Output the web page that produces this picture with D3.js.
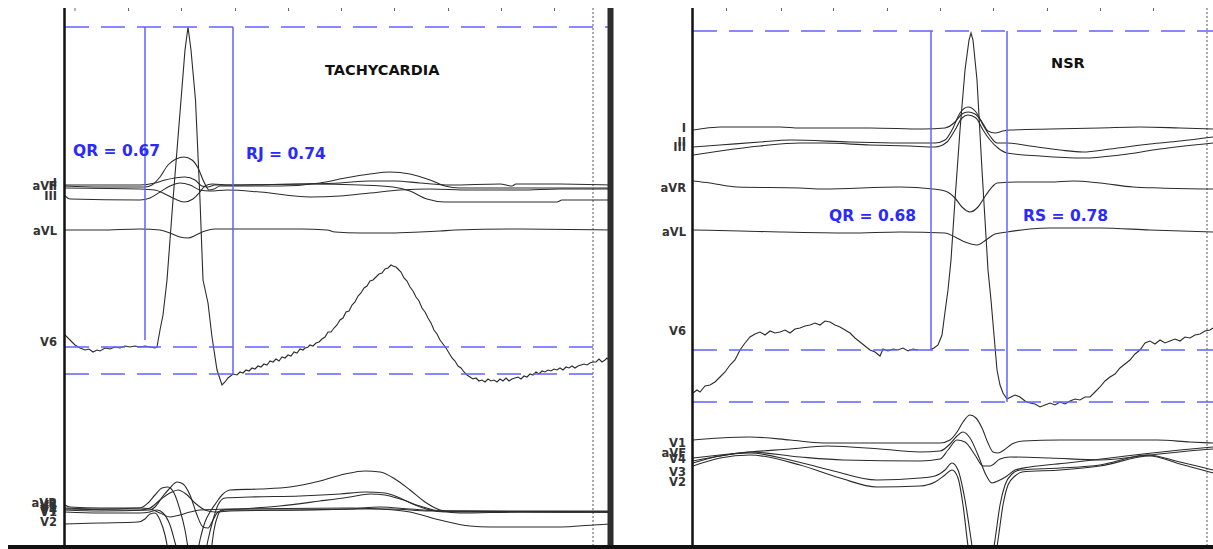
<!DOCTYPE html>
<html>
<head>
<meta charset="utf-8">
<script src="https://cdn.jsdelivr.net/npm/d3@7"></script>
<style>
body{margin:0;background:#fff}
svg{display:block}
.lead{fill:none;stroke:#2b2b2b;stroke-width:1.1}
.lbl{font-family:"DejaVu Sans",Verdana,sans-serif;font-weight:bold;font-size:11.5px;fill:#333}
.meas{font-family:"DejaVu Sans",Verdana,sans-serif;font-weight:bold;font-size:15.5px;fill:#2a2aff}
.title{font-family:"DejaVu Sans",Verdana,sans-serif;font-weight:bold;font-size:14.5px;fill:#111}
</style>
</head>
<body>
<svg id="ecg"></svg>
<script>
var svgW = 1213
var svgH = 549
var plotTop = 8
var plotBottom = 546

// small timing ticks along the top of each strip
var tachyTicks = [9.5, 63, 116, 170, 223, 276, 329, 383, 436, 489]
var nsrTicks = [33, 88, 140, 194, 247, 300, 354, 407, 460]

// lead names as printed on the left of each strip
var tachyLabels = ["I", "II", "aVF", "III", "aVL", "V6", "aVR", "V3", "V5", "V4", "V1", "V2"]
var nsrLabels = ["I", "II", "III", "aVR", "aVL", "V6", "V1", "aVF", "V4", "V3", "V2"]

// measurement texts
var tachyTitle = "TACHYCARDIA"
var nsrTitle = "NSR"
var tachyMeasures = ["QR = 0.67", "RJ = 0.74"]
var nsrMeasures = ["QR = 0.68", "RS = 0.78"]

// V6 reference levels (R peak, Q, J/S) and marker times
var tachyLevels = [320, 0, -27]
var nsrLevels = [319, 0, -52]
var tachyMarkT = [80, 168]
var tachyMarkEnd = [7, -27]
var nsrMarkT = [238, 314]
var nsrMarkEnd = [0, -52]

// traces: [sample, amplitude] pairs, amplitude measured from the lead baseline
var tachyI = [[0,0],[35,0],[75,0],[90,2],[100,5],[110,7],[120,8],[130,5],[137,-1],[143,-2],[150,0],[165,0],[235,1],[275,2],[305,4],[330,4],[355,2],[385,0],[435,1],[447,-1],[451,1],[495,1],[545,0]]
var tachyII = [[0,1],[35,0],[80,0],[87,2],[95,10],[103,22],[111,28],[119,30],[127,27],[133,19],[139,5],[144,-3],[149,-2],[155,1],[170,1],[215,1],[255,4],[280,9],[305,13],[325,15],[345,13],[365,7],[380,1],[395,-1],[455,-1],[545,-1]]
var tachyAVF = [[0,0],[75,-1],[90,-2],[100,-6],[110,-11],[119,-14],[128,-11],[135,-4],[140,2],[147,4],[165,3],[245,4],[295,3],[328,1],[345,-3],[362,-11],[380,-14],[402,-14],[455,-14],[492,-14],[497,-12],[545,-12]]
var tachyIII = [[0,1],[5,-2],[75,-3],[85,-1],[95,5],[105,11],[115,14],[125,12],[135,7],[145,6],[162,7],[195,5],[245,0],[275,1],[305,4],[335,7],[365,8],[405,7],[455,7],[495,8],[545,8]]
var tachyAVL = [[0,0],[35,0],[75,1],[95,0],[105,-3],[115,-7],[123,-8],[131,-5],[140,-1],[150,1],[175,1],[235,1],[262,0],[270,-2],[295,-3],[325,-3],[355,-2],[375,-1],[390,0],[455,1],[545,0]]
var tachyV6 = [[0,12],[5,7],[10,2],[15,-1],[20,-3],[24,-2],[28,-5],[32,-3],[35,-4],[40,-1],[45,-2],[50,0],[55,-1],[60,1],[65,0],[70,1],[75,0],[80,1],[85,0],[90,-1],[92,0],[95,17],[98,32],[102,67],[108,147],[116,247],[120,297],[123,320],[126,297],[130.5,247],[135,147],[138,67],[143,44],[147,10],[152,-23],[157,-38],[160,-35],[163,-31],[168,-27],[172,-28],[175,-25],[178,-26],[181,-23],[184,-24],[187,-21],[190,-22],[193,-19],[196,-20],[199,-17],[202,-18],[205,-14],[208,-15],[211,-12],[214,-14],[217,-10],[220,-11],[223,-8],[226,-9],[229,-5],[232,-6],[235,-2],[238,-3],[240,-1],[243,0],[245,2],[248,1],[251,4],[254,5],[257,8],[260,10],[263,15],[266,15],[269,19],[272,22],[275,27],[278,29],[281,35],[284,36],[287,42],[290,45],[293,51],[296,54],[299,59],[302,61],[305,66],[308,67],[311,70],[314,73],[317,74],[320,78],[323,79],[326,82],[328,81],[331,80],[333,78],[336,75],[339,69],[342,66],[345,60],[348,56],[351,50],[354,46],[357,39],[360,35],[363,29],[366,24],[369,17],[372,13],[375,7],[378,3],[381,-1],[384,-6],[387,-11],[390,-14],[393,-19],[396,-21],[399,-25],[402,-28],[405,-30],[408,-32],[411,-31],[414,-34],[417,-33],[420,-35],[423,-32],[426,-34],[429,-33],[432,-35],[435,-32],[438,-34],[441,-31],[444,-34],[447,-32],[450,-31],[453,-30],[456,-32],[459,-29],[462,-30],[465,-27],[468,-28],[471,-25],[474,-27],[477,-24],[480,-25],[483,-23],[486,-24],[489,-22],[492,-23],[495,-21],[498,-23],[501,-20],[504,-21],[507,-19],[510,-21],[513,-19],[516,-18],[519,-17],[522,-18],[525,-16],[528,-15],[531,-15],[534,-12],[537,-15],[540,-13],[542,-11],[545,-14]]
var tachyAVR = [[0,2],[5,0],[35,-1],[75,-1],[85,-2],[95,-6],[105,-10],[115,-8],[125,-5],[135,-3],[165,-2],[285,-1],[315,-2],[345,-5],[375,-13],[405,-19],[425,-20],[495,-20],[528,-18],[545,-17]]
var tachyV1 = [[0,1],[35,0],[75,0],[85,1],[92,3],[98,0],[105,-12],[111,-33],[115,-47],[127,-87],[139,-47],[143,-27],[148,-7],[153,8],[160,15],[185,16],[235,17],[275,19],[300,21],[320,20],[335,15],[350,8],[365,3],[380,1],[545,1]]
var tachyV2 = [[0,-1],[35,0],[73,1],[80,4],[85,9],[90,10],[95,3],[100,-12],[104,-32],[118,-77],[131,-37],[135,-17],[140,1],[145,11],[151,20],[157,28],[165,33],[195,34],[225,36],[255,42],[280,49],[300,52],[315,51],[330,44],[345,33],[360,21],[375,13],[395,10],[455,11],[545,11]]
var tachyV3 = [[0,1],[35,0],[75,1],[83,6],[90,14],[97,21],[103,22],[109,16],[115,-1],[120,-21],[125,-51],[135,-91],[145,-51],[149,-21],[153,-6],[157,-1],[175,0],[215,3],[255,8],[285,12],[305,15],[320,14],[335,10],[355,3],[375,-2],[545,-3]]
var tachyV4 = [[0,1],[35,0],[85,1],[90,4],[98,15],[105,23],[112,29],[118,27],[125,16],[132,-4],[138,-16],[143,-17],[148,-9],[153,-1],[160,1],[235,1],[285,2],[315,4],[345,2],[375,0],[545,-1]]
var tachyV5 = [[0,1],[75,0],[85,2],[95,10],[105,17],[113,20],[121,16],[130,7],[140,0],[150,-2],[165,-1],[235,0],[295,1],[325,1],[365,-1],[545,-1]]

var nsrI = [[0,-1],[7,0],[27,2],[87,2],[107,1],[177,1],[230,0],[252,1],[262,7],[269,15],[275,17],[282,15],[289,7],[295,-2],[302,-4],[310,-2],[317,-1],[357,0],[407,1],[447,2],[487,1],[520,0]]
var nsrII = [[0,-2],[27,0],[67,3],[97,5],[157,3],[207,2],[242,2],[252,5],[259,15],[267,32],[275,38],[283,33],[290,20],[297,9],[304,2],[314,2],[337,-1],[367,-5],[390,-7],[417,-4],[457,1],[487,4],[520,8]]
var nsrIII = [[0,-4],[27,0],[67,5],[107,8],[130,8],[177,6],[217,5],[242,4],[254,9],[262,21],[269,33],[275,36],[283,33],[290,21],[297,11],[305,3],[314,-2],[347,-5],[390,-7],[427,-4],[467,2],[520,8]]
var nsrAVR = [[0,4],[17,2],[44,-2],[107,-3],[130,-4],[207,-2],[240,-4],[252,-6],[262,-13],[269,-22],[277,-27],[285,-22],[293,-10],[300,-1],[304,2],[327,3],[357,3],[380,4],[407,2],[440,-2],[467,-3],[520,-4]]
var nsrAVL = [[0,1],[47,0],[87,-1],[157,-2],[207,-1],[252,-2],[262,-6],[272,-11],[284,-14],[293,-9],[302,-3],[314,-1],[337,2],[357,3],[407,3],[457,1],[520,-1]]
var nsrV6 = [[0,-43],[4,-40],[7,-42],[12,-36],[17,-35],[22,-32],[27,-27],[32,-22],[37,-15],[42,-10],[47,0],[52,7],[57,13],[62,16],[67,18],[72,15],[77,19],[82,17],[87,18],[92,20],[97,17],[102,21],[107,22],[112,24],[117,25],[122,27],[127,25],[132,29],[137,28],[142,25],[147,23],[152,20],[157,17],[162,12],[167,8],[172,4],[177,0],[182,-2],[187,-6],[190,1],[195,-1],[200,1],[205,0],[210,2],[215,-1],[220,1],[225,0],null,[237,0],[241,2],[245,5],[249,15],[252,38],[255,60],[258,90],[262,150],[267,220],[272,280],[276,310],[278,317],[280,310],[284,270],[289,180],[295,80],[298,50],[301,15],[304,-20],[307,-35],[310,-43],[314,-49],[318,-47],[322,-45],[327,-47],[332,-51],[337,-53],[342,-54],[347,-57],[352,-55],[357,-53],[362,-55],[367,-52],[372,-54],[377,-51],[382,-49],[387,-50],[392,-47],[397,-47],[402,-42],[407,-37],[412,-31],[417,-27],[422,-24],[427,-18],[432,-14],[437,-10],[442,-4],[447,0],[452,7],[457,9],[462,6],[467,10],[472,7],[477,9],[482,11],[487,9],[492,13],[497,12],[502,15],[507,16],[512,19],[517,20],[520,22]]
var nsrV1 = [[0,2],[27,4],[57,5],[97,2],[130,-1],[207,-1],[247,-1],[257,2],[264,10],[270,20],[277,27],[283,24],[289,14],[295,-1],[300,-10],[305,-11],[311,-8],[319,-2],[330,1],[367,2],[407,2],[464,2],[497,0],[520,-1]]
var nsrAVF = [[0,-6],[27,-3],[57,0],[97,3],[134,6],[187,3],[227,0],[247,1],[257,8],[264,16],[270,20],[277,14],[285,-3],[293,-23],[299,-31],[307,-28],[314,-24],[322,-18],[337,-15],[374,-11],[417,-6],[450,-2],[487,2],[520,5]]
var nsrV4 = [[0,-1],[27,4],[57,8],[107,3],[150,0],[227,-1],[247,1],[255,10],[264,20],[272,18],[282,5],[290,-6],[297,-6],[307,1],[317,3],[357,2],[407,0],[457,5],[507,10],[520,11]]
var nsrV3 = [[0,12],[27,19],[57,22],[97,15],[137,5],[184,-5],[227,-3],[242,-1],[252,5],[259,12],[265,5],[272,-25],[279,-71],[287,-125],[297,-95],[302,-65],[307,-30],[312,-10],[319,1],[327,5],[367,7],[407,10],[454,20],[487,13],[520,5]]
var nsrV2 = [[0,18],[27,26],[57,29],[107,19],[147,6],[184,-3],[227,-2],[242,2],[252,9],[259,14],[265,6],[270,-21],[275,-62],[285,-116],[300,-86],[305,-56],[310,-21],[315,-1],[322,8],[329,12],[367,14],[407,18],[457,28],[487,20],[520,11]]

// layout of the two strips (pixel placement only)
var tachyPanel = {
    name: "tachy", x0: 65, x1: 610, span: 545, dotted: 528,
    leads: [tachyI, tachyII, tachyAVF, tachyIII, tachyAVL, tachyV6, tachyAVR, tachyV3, tachyV5, tachyV4, tachyV1, tachyV2],
    base: [185, 187, 188, 197, 230, 347, 507, 509, 510, 511, 513, 523],
    labelX: 57, labelY: [183, 186, 186, 196, 231, 342, 503, 505, 507, 510, 512, 522],
    labels: tachyLabels, ticks: tachyTicks,
    levels: tachyLevels, dashEnd: [545, 528, 528],
    markT: tachyMarkT, markEnd: tachyMarkEnd,
    title: tachyTitle, titleAt: [260, 70],
    measures: tachyMeasures, measureAt: [[8, 150], [181, 153]]
}
var nsrPanel = {
    name: "nsr", x0: 693, x1: 1213, span: 520, dotted: 514,
    leads: [nsrI, nsrII, nsrIII, nsrAVR, nsrAVL, nsrV6, nsrV1, nsrAVF, nsrV4, nsrV3, nsrV2],
    base: [129, 145, 151, 185, 231, 350, 442, 452, 460, 475, 484],
    labelX: 686, labelY: [128, 142, 147, 188, 232, 331, 443, 453, 459, 472, 482],
    labels: nsrLabels, ticks: nsrTicks,
    levels: nsrLevels, dashEnd: [520, 520, 520],
    markT: nsrMarkT, markEnd: nsrMarkEnd,
    title: nsrTitle, titleAt: [358, 63],
    measures: nsrMeasures, measureAt: [[136, 215], [330, 215]]
}

var drawPanel = function(svg, panel)
{
    var xScale = d3.scaleLinear()
        .domain([0, panel.span])
        .range([panel.x0, panel.x1])

    var clipId = "clip-" + panel.name
    svg.append("clipPath")
        .attr("id", clipId)
        .append("rect")
        .attr("x", panel.x0)
        .attr("y", plotTop)
        .attr("width", panel.x1 - panel.x0)
        .attr("height", plotBottom - plotTop)

    // timing ticks
    var axis = d3.axisTop(xScale)
        .tickValues(panel.ticks)
        .tickSize(3)
        .tickFormat("")
    var ga = svg.append("g")
        .attr("transform", "translate(0," + (plotTop + 3) + ")")
        .call(axis)
    ga.select(".domain").remove()
    ga.selectAll(".tick line").attr("stroke", "#666")

    // dotted end-of-strip line
    svg.append("line")
        .attr("x1", xScale(panel.dotted)).attr("x2", xScale(panel.dotted))
        .attr("y1", plotTop).attr("y2", plotBottom)
        .attr("stroke", "#555")
        .attr("stroke-width", 1)
        .attr("stroke-dasharray", "2,2")

    var traces = svg.append("g").attr("clip-path", "url(#" + clipId + ")")
    var v6Scale

    panel.leads.forEach(function(data, i)
    {
        var base = panel.base[i]
        var yScale = d3.scaleLinear().domain([0, 1]).range([base, base - 1])
        var noisy = panel.labels[i] == "V6"
        if(noisy) { v6Scale = yScale }
        var line = d3.line()
            .defined(function(d){ return d != null })
            .x(function(d){ return xScale(d[0]) })
            .y(function(d){ return yScale(d[1]) })
            .curve(noisy ? d3.curveLinear : d3.curveMonotoneX)
        traces.append("path")
            .datum(data)
            .attr("class", "lead")
            .attr("d", line)
    })

    // V6 reference levels
    var marks = svg.append("g")
    marks.selectAll(".level")
        .data(panel.levels)
        .enter()
        .append("line")
        .attr("class", "level")
        .attr("x1", xScale(0))
        .attr("x2", function(d, i){ return xScale(panel.dashEnd[i]) })
        .attr("y1", function(d){ return v6Scale(d) })
        .attr("y2", function(d){ return v6Scale(d) })
        .attr("stroke", "#6161ff")
        .attr("stroke-width", 1.6)
        .attr("stroke-dasharray", "24,12")

    marks.selectAll(".mark")
        .data(panel.markT)
        .enter()
        .append("line")
        .attr("class", "mark")
        .attr("x1", function(d){ return xScale(d) })
        .attr("x2", function(d){ return xScale(d) })
        .attr("y1", v6Scale(panel.levels[0]))
        .attr("y2", function(d, i){ return v6Scale(panel.markEnd[i]) })
        .attr("stroke", "#6161ff")
        .attr("stroke-width", 1.5)

    // lead names
    svg.selectAll(".lbl-" + panel.name)
        .data(panel.labels)
        .enter()
        .append("text")
        .attr("class", "lbl lbl-" + panel.name)
        .attr("text-anchor", "end")
        .attr("x", panel.labelX)
        .attr("y", function(d, i){ return panel.labelY[i] })
        .attr("dy", "0.36em")
        .text(function(d){ return d })

    svg.append("text")
        .attr("class", "title")
        .attr("x", xScale(panel.titleAt[0]))
        .attr("y", panel.titleAt[1])
        .attr("dy", "0.36em")
        .text(panel.title)

    svg.selectAll(".meas-" + panel.name)
        .data(panel.measures)
        .enter()
        .append("text")
        .attr("class", "meas meas-" + panel.name)
        .attr("x", function(d, i){ return xScale(panel.measureAt[i][0]) })
        .attr("y", function(d, i){ return panel.measureAt[i][1] })
        .attr("dy", "0.36em")
        .text(function(d){ return d })

    // left axis of the strip
    svg.append("line")
        .attr("x1", panel.x0 - 0.5).attr("x2", panel.x0 - 0.5)
        .attr("y1", plotTop).attr("y2", plotBottom)
        .attr("stroke", "#111")
        .attr("stroke-width", 2.5)
}

var svg = d3.select("#ecg")
    .attr("width", svgW)
    .attr("height", svgH)

svg.append("rect")
    .attr("width", svgW)
    .attr("height", svgH)
    .attr("fill", "#fff")

drawPanel(svg, tachyPanel)
drawPanel(svg, nsrPanel)

// divider between the strips
svg.append("rect")
    .attr("x", 607.5)
    .attr("y", plotTop)
    .attr("width", 6)
    .attr("height", plotBottom - plotTop)
    .attr("fill", "#2e2e2e")

// bottom rule
svg.append("rect")
    .attr("x", 8)
    .attr("y", 545)
    .attr("width", svgW - 8)
    .attr("height", 4)
    .attr("fill", "#111")
</script>
</body>
</html>
